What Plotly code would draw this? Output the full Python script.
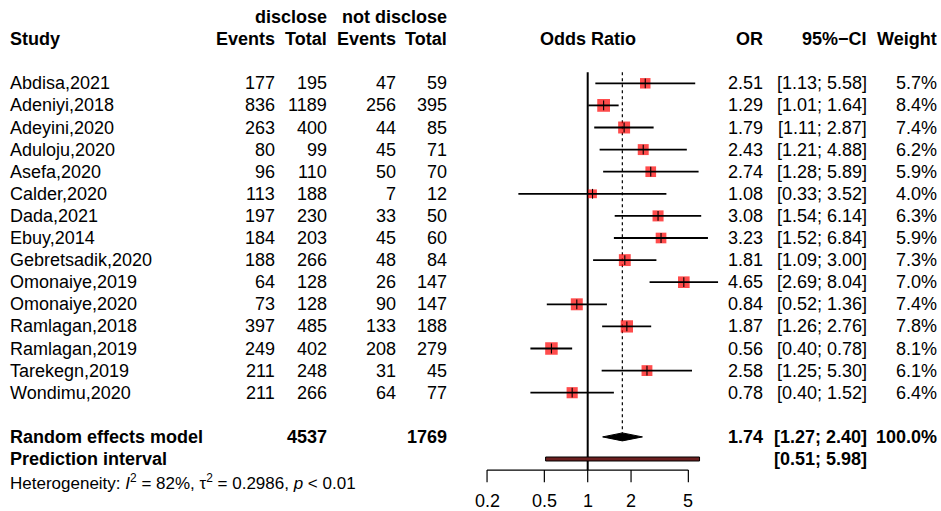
import plotly.graph_objects as go
import math

studies = ["Abdisa,2021", "Adeniyi,2018", "Adeyini,2020", "Aduloju,2020", "Asefa,2020",
           "Calder,2020", "Dada,2021", "Ebuy,2014", "Gebretsadik,2020", "Omonaiye,2019",
           "Omonaiye,2020", "Ramlagan,2018", "Ramlagan,2019", "Tarekegn,2019", "Wondimu,2020"]
ev_disc = [177, 836, 263, 80, 96, 113, 197, 184, 188, 64, 73, 397, 249, 211, 211]
tot_disc = [195, 1189, 400, 99, 110, 188, 230, 203, 266, 128, 128, 485, 402, 248, 266]
ev_nodisc = [47, 256, 44, 45, 50, 7, 33, 45, 48, 26, 90, 133, 208, 31, 64]
tot_nodisc = [59, 395, 85, 71, 70, 12, 50, 60, 84, 147, 147, 188, 279, 45, 77]
or_vals = [2.51, 1.29, 1.79, 2.43, 2.74, 1.08, 3.08, 3.23, 1.81, 4.65, 0.84, 1.87, 0.56, 2.58, 0.78]
ci_low = [1.13, 1.01, 1.11, 1.21, 1.28, 0.33, 1.54, 1.52, 1.09, 2.69, 0.52, 1.26, 0.40, 1.25, 0.40]
ci_high = [5.58, 1.64, 2.87, 4.88, 5.89, 3.52, 6.14, 6.84, 3.00, 8.04, 1.36, 2.76, 0.78, 5.30, 1.52]
weights = [5.7, 8.4, 7.4, 6.2, 5.9, 4.0, 6.3, 5.9, 7.3, 7.0, 7.4, 7.8, 8.1, 6.1, 6.4]

re_or, re_low, re_high = 1.74, 1.27, 2.40
pi_low, pi_high = 0.51, 5.98
total_disc, total_nodisc = 4537, 1769
tick_vals = [0.2, 0.5, 1, 2, 5]
tick_labels = ["0.2", "0.5", "1", "2", "5"]

FONT = "Liberation Sans, Arial, Helvetica, sans-serif"
FS = 18
W, H = 941, 511

rows = list(range(1, len(studies) + 1))
re_row = len(studies) + 2
pi_row = re_row + 1
axis_row = pi_row + 0.5
het_row = pi_row + 1
hdr_row = -1
hdr2_row = -2

fig = go.Figure()

# vertical reference line at OR = 1
fig.add_trace(go.Scatter(x=[1, 1], y=[0.5, axis_row], mode="lines",
                         line=dict(color="black", width=2), hoverinfo="skip"))
# dotted line at pooled estimate
fig.add_trace(go.Scatter(x=[re_or, re_or], y=[0.5, re_row - 0.18], mode="lines",
                         line=dict(color="black", width=1.2, dash="dot"), hoverinfo="skip"))

# squares
fig.add_trace(go.Scatter(x=or_vals, y=rows, mode="markers",
                         marker=dict(symbol="square", color="#ff0000",
                                     size=[4.4 * math.sqrt(w) for w in weights],
                                     line=dict(width=0)),
                         hoverinfo="skip"))
# CI lines
for r, lo, hi in zip(rows, ci_low, ci_high):
    fig.add_trace(go.Scatter(x=[lo, hi], y=[r, r], mode="lines",
                             line=dict(color="black", width=1.8), hoverinfo="skip"))
# small vertical ticks at point estimates
fig.add_trace(go.Scatter(x=or_vals, y=rows, mode="markers",
                         marker=dict(symbol="line-ns", size=7, color="black",
                                     line=dict(color="black", width=1.1)),
                         hoverinfo="skip"))

# diamond
dh = 0.18
fig.add_trace(go.Scatter(x=[re_low, re_or, re_high, re_or, re_low],
                         y=[re_row, re_row - dh, re_row, re_row + dh, re_row],
                         mode="lines", fill="toself", fillcolor="black",
                         line=dict(color="black", width=1), hoverinfo="skip"))
# prediction interval bar
ph = 0.09
fig.add_trace(go.Scatter(x=[pi_low, pi_high, pi_high, pi_low, pi_low],
                         y=[pi_row - ph, pi_row - ph, pi_row + ph, pi_row + ph, pi_row - ph],
                         mode="lines", fill="toself", fillcolor="#6b1f1f",
                         line=dict(color="black", width=1), hoverinfo="skip"))

# axis
fig.add_trace(go.Scatter(x=[tick_vals[0], tick_vals[-1]], y=[axis_row, axis_row], mode="lines",
                         line=dict(color="black", width=1.2), hoverinfo="skip"))
for t in tick_vals:
    fig.add_trace(go.Scatter(x=[t, t], y=[axis_row, axis_row + 0.55], mode="lines",
                             line=dict(color="black", width=1.2), hoverinfo="skip"))

# text
ann = []
def txt(x, y, s, anchor="right", bold=False, size=FS, xref="x2"):
    if bold:
        s = "<b>" + s + "</b>"
    ann.append(dict(x=x, y=y, xref=xref, yref="y", text=s, showarrow=False,
                    xanchor=anchor, yanchor="middle", borderpad=0, borderwidth=0,
                    font=dict(family=FONT, size=size, color="black")))

for t, lab in zip(tick_vals, tick_labels):
    txt(math.log10(t), axis_row + 1.42, lab, anchor="center", xref="x")

C_STUDY, C_EV1, C_TOT1, C_EV2, C_TOT2 = 10, 275, 327, 396, 447
C_OR, C_CI, C_W = 763, 867, 937

txt(C_TOT1, hdr2_row, "disclose", bold=True)
txt(C_TOT2, hdr2_row, "not disclose", bold=True)
txt(C_STUDY, hdr_row, "Study", anchor="left", bold=True)
txt(C_EV1, hdr_row, "Events", bold=True)
txt(C_TOT1, hdr_row, "Total", bold=True)
txt(C_EV2, hdr_row, "Events", bold=True)
txt(C_TOT2, hdr_row, "Total", bold=True)
txt(math.log10(1), hdr_row, "Odds Ratio", anchor="center", bold=True, xref="x")
txt(C_OR, hdr_row, "OR", bold=True)
txt(C_CI, hdr_row, "95%−CI", bold=True)
txt(C_W, hdr_row, "Weight", bold=True)

for i, r in enumerate(rows):
    txt(C_STUDY, r, studies[i], anchor="left")
    txt(C_EV1, r, str(ev_disc[i]))
    txt(C_TOT1, r, str(tot_disc[i]))
    txt(C_EV2, r, str(ev_nodisc[i]))
    txt(C_TOT2, r, str(tot_nodisc[i]))
    txt(C_OR, r, f"{or_vals[i]:.2f}")
    txt(C_CI, r, f"[{ci_low[i]:.2f}; {ci_high[i]:.2f}]")
    txt(C_W, r, f"{weights[i]:.1f}%")

txt(C_STUDY, re_row, "Random effects model", anchor="left", bold=True)
txt(C_TOT1, re_row, str(total_disc), bold=True)
txt(C_TOT2, re_row, str(total_nodisc), bold=True)
txt(C_OR, re_row, f"{re_or:.2f}", bold=True)
txt(C_CI, re_row, f"[{re_low:.2f}; {re_high:.2f}]", bold=True)
txt(C_W, re_row, "100.0%", bold=True)
txt(C_STUDY, pi_row, "Prediction interval", anchor="left", bold=True)
txt(C_CI, pi_row, f"[{pi_low:.2f}; {pi_high:.2f}]", bold=True)
txt(C_STUDY, het_row + 0.05,
    "Heterogeneity: <i>I</i><sup>2</sup> = 82%, τ<sup>2</sup> = 0.2986, <i>p</i> &lt; 0.01",
    anchor="left", size=17)

# axis mapping: pixel x = 587.7 + 144*log10(v); pixel y = 83.3 + (r-1)*22.1
X0, PPD = 587.7, 144.0
Y0, PPR = 83.3, 22.1
fig.update_layout(
    width=W, height=H, margin=dict(l=0, r=0, t=0, b=0),
    paper_bgcolor="white", plot_bgcolor="white", showlegend=False,
    xaxis=dict(type="log", range=[(0 - X0) / PPD, (W - X0) / PPD], domain=[0, 1],
               visible=False, fixedrange=True),
    xaxis2=dict(range=[0, W], domain=[0, 1], overlaying="x", visible=False),
    yaxis=dict(range=[1 + (H - Y0) / PPR, 1 - Y0 / PPR], domain=[0, 1],
               visible=False, fixedrange=True),
    annotations=ann,
)
fig.write_html("out.html")
